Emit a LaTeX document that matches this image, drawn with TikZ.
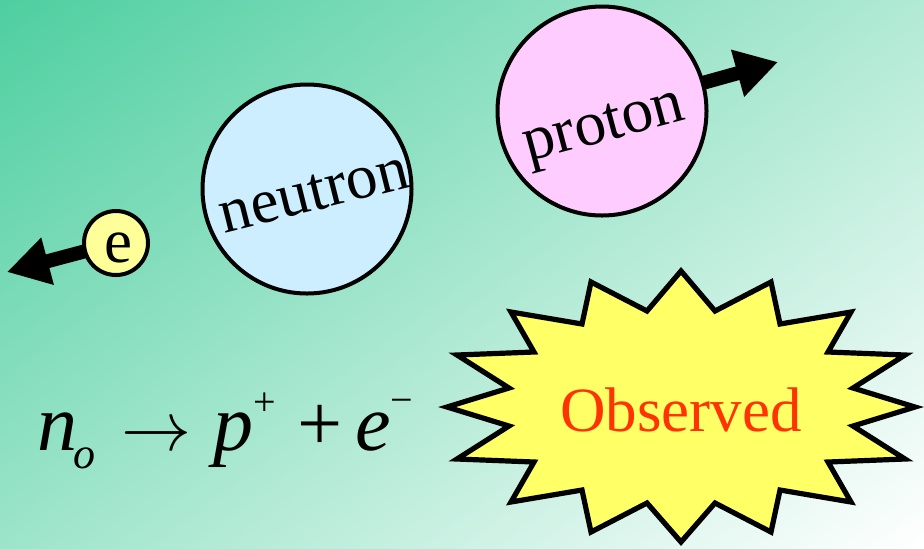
\documentclass[tikz,border=0pt]{standalone}
\usepackage{fontspec}
\setmainfont{Liberation Serif}
\usetikzlibrary{arrows.meta}
\definecolor{seagreen}{RGB}{78,207,160}
\definecolor{seamid}{RGB}{180,234,214}
\definecolor{neublue}{RGB}{204,238,255}
\definecolor{propink}{RGB}{255,204,255}
\definecolor{elyellow}{RGB}{255,255,153}
\definecolor{burstyellow}{RGB}{255,255,102}
\definecolor{obsred}{RGB}{255,51,0}

\begin{document}
\begin{tikzpicture}[
  x=0.5pt, y=-0.5pt,
  particle/.style={circle, draw=black, line width=2pt, inner sep=0pt},
  lbl/.style={font=\fontsize{31.5}{31.5}\selectfont, inner sep=0pt},
  kick/.style={-{Triangle[length=21pt, width=23pt]}, line width=7pt}
]
  \useasboundingbox (0,0) rectangle (924,548);
  % background, diagonal fade
  \begin{scope}
    \clip (0,0) rectangle (924,548);
    \begin{scope}[transform canvas={rotate around={37:(0,0)}}]
      \shade[top color=seagreen, middle color=seamid, bottom color=white]
        (-1000,0) rectangle (2000,994);
    \end{scope}
  \end{scope}

  \coordinate (ec) at (116,243);
  \coordinate (nc) at (307,189);
  \coordinate (pc) at (602,111);
  \coordinate (etip) at (7,272);
  \coordinate (ptip) at (778,62);

  % tracks go under the particles
  \draw[kick] (ec) -- (etip);
  \draw[kick] (pc) -- (ptip);

  \node[particle, fill=elyellow, minimum size=32pt] (el) at (ec) {};
  \node[particle, fill=neublue, minimum size=104.5pt] (neu) at (nc) {};
  \node[particle, fill=propink, minimum size=104.5pt] (pro) at (pc) {};

  \node[lbl] (eltxt) at ([shift={(1pt,-2.5pt)}]el.center) {e};
  \node[lbl, rotate=14] (neutxt) at ([shift={(3.5pt,-2pt)}]neu.center) {neutron};
  \node[lbl, rotate=15] (protxt) at ([shift={(1.5pt,-9.5pt)}]pro.center) {proton};

  % the burst
  \draw[fill=burstyellow, line width=2.6pt]
    (681,271) -- (715,311) -- (771,282) -- (780,324) -- (851,312) -- (828,352)
    -- (905,355) -- (853,388) -- (915,407) -- (853,426) -- (905,459) -- (828,462)
    -- (851,502) -- (780,490) -- (771,532) -- (715,503) -- (681,542) -- (647,503)
    -- (591,532) -- (582,490) -- (511,502) -- (534,462) -- (457,459) -- (509,426)
    -- (447,407) -- (509,388) -- (457,355) -- (534,352) -- (511,312) -- (582,324)
    -- (591,282) -- (647,311) -- cycle;
  \node[lbl, text=obsred] (obs) at (681,410) {Observed};

  \node[anchor=base west, inner sep=0pt, font=\fontsize{40}{40}\selectfont] (decay) at (37,450)
    {\textit{n}\hspace{-2pt}\raisebox{-9pt}{\fontsize{22}{22}\selectfont\textit{o}}\hspace{13pt}%
     \resizebox{35pt}{!}{$\rightarrow$}\hspace{11pt}\textit{p}%
     \raisebox{17.5pt}{\fontsize{20}{20}\selectfont +}\hspace{11pt}+\hspace{6pt}\textit{e}%
     \raisebox{18.5pt}{\fontsize{20}{20}\selectfont −}};
\end{tikzpicture}
\end{document}
